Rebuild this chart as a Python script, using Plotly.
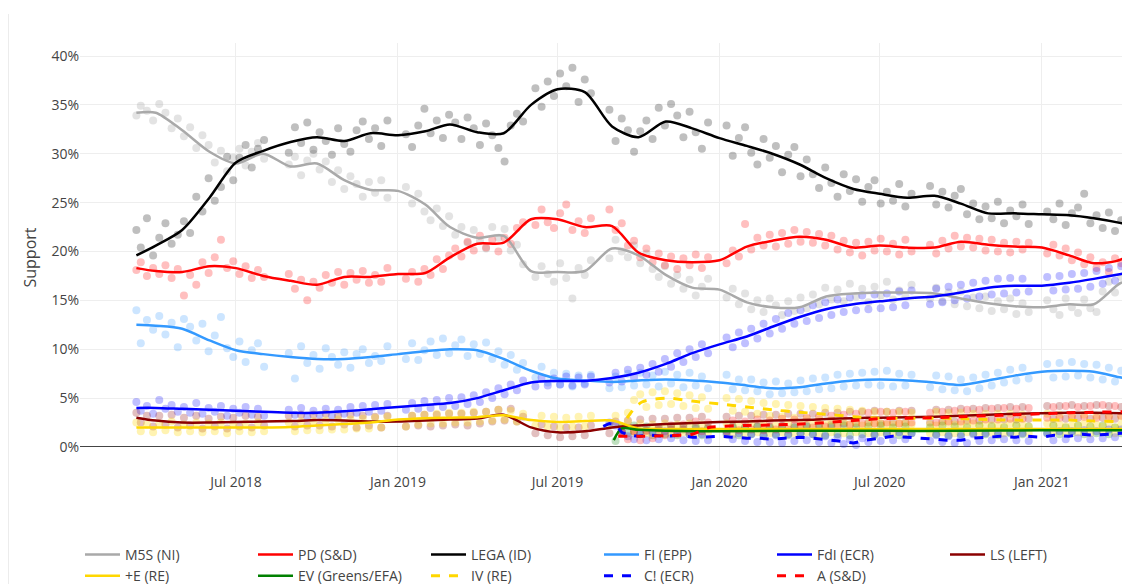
import plotly.graph_objects as go

# ---------------- poll dates (one row per poll) ----------------
poll_dates = [
    "2018-03-10", "2018-03-15", "2018-03-22", "2018-03-29", "2018-04-05", "2018-04-12", "2018-04-19", "2018-04-26",
    "2018-05-03", "2018-05-10", "2018-05-17", "2018-05-24", "2018-05-31", "2018-06-07", "2018-06-14", "2018-06-21",
    "2018-06-28", "2018-07-05", "2018-07-12", "2018-07-19", "2018-07-26", "2018-08-02", "2018-08-30", "2018-09-06",
    "2018-09-13", "2018-09-20", "2018-09-27", "2018-10-04", "2018-10-11", "2018-10-18", "2018-10-25", "2018-11-01",
    "2018-11-08", "2018-11-15", "2018-11-22", "2018-11-29", "2018-12-06", "2018-12-13", "2018-12-20",
    "2019-01-10", "2019-01-17", "2019-01-24", "2019-01-31", "2019-02-07", "2019-02-14", "2019-02-21", "2019-02-28",
    "2019-03-07", "2019-03-14", "2019-03-21", "2019-03-28", "2019-04-04", "2019-04-11", "2019-04-18", "2019-04-25",
    "2019-05-02", "2019-05-09", "2019-05-16", "2019-05-23", "2019-06-06", "2019-06-13", "2019-06-20", "2019-06-27",
    "2019-07-04", "2019-07-11", "2019-07-18", "2019-07-25", "2019-08-01", "2019-08-08", "2019-08-29", "2019-09-05",
    "2019-09-12", "2019-09-19", "2019-09-26", "2019-10-03", "2019-10-10", "2019-10-17", "2019-10-24", "2019-10-31",
    "2019-11-07", "2019-11-14", "2019-11-21", "2019-11-28", "2019-12-05", "2019-12-12", "2019-12-19",
    "2020-01-09", "2020-01-16", "2020-01-23", "2020-01-30", "2020-02-06", "2020-02-13", "2020-02-20", "2020-02-27",
    "2020-03-05", "2020-03-12", "2020-03-19", "2020-03-26", "2020-04-02", "2020-04-09", "2020-04-16", "2020-04-23",
    "2020-04-30", "2020-05-07", "2020-05-14", "2020-05-21", "2020-05-28", "2020-06-04", "2020-06-11", "2020-06-18",
    "2020-06-25", "2020-07-02", "2020-07-09", "2020-07-16", "2020-07-23", "2020-07-30", "2020-08-06", "2020-08-27",
    "2020-09-03", "2020-09-10", "2020-09-17", "2020-09-24", "2020-10-01", "2020-10-08", "2020-10-15", "2020-10-22",
    "2020-10-29", "2020-11-05", "2020-11-12", "2020-11-19", "2020-11-26", "2020-12-03", "2020-12-10", "2020-12-17",
    "2021-01-07", "2021-01-14", "2021-01-21", "2021-01-28", "2021-02-04", "2021-02-11", "2021-02-18", "2021-02-25",
    "2021-03-04", "2021-03-11", "2021-03-18", "2021-03-25", "2021-04-01", "2021-04-08",
]

m5s_polls = [
    33.9, 34.9, 34.4, 33.4, 35.1, 34.2, 32.6, 33.6, 31.8, 32.7,
    30.6, 31.9, 30.9, 29.1, 30.3, 28.2, 29.6, 30.5, 28.8, 30.2,
    31.1, 29.5, 28.9, 29.7, 27.8, 29.3, 30.0, 28.4, 29.2, 27.1,
    28.3, 26.4, 27.7, 26.9, 25.6, 27.1, 26.0, 27.3, 25.5, 26.6,
    24.9, 25.9, 24.1, 23.2, 24.4, 22.6, 23.6, 21.7, 22.5, 20.9,
    22.2, 21.1, 20.3, 22.5, 21.4, 22.3, 20.1, 20.7, 18.7, 17.4,
    18.5, 17.7, 16.9, 18.8, 17.3, 15.2, 18.3, 17.6, 19.1, 19.3,
    21.2, 20.0, 19.4, 20.6, 18.8, 19.8, 18.2, 17.4, 18.5, 16.7,
    17.6, 16.2, 17.1, 15.5, 16.4, 17.2, 15.3, 16.2, 14.6, 15.7,
    14.1, 15.0, 13.8, 15.2, 14.5, 13.5, 14.9, 13.9, 15.3, 14.2,
    15.6, 14.6, 16.3, 15.1, 16.1, 14.9, 16.7, 15.4, 16.2, 14.8,
    16.4, 15.5, 16.9, 15.1, 16.0, 15.4, 16.6, 15.2, 16.3, 14.9,
    15.8, 14.6, 15.9, 14.4, 15.3, 14.2, 15.4, 13.9, 14.9, 14.1,
    15.2, 13.6, 14.7, 13.8, 15.0, 14.1, 13.5, 15.2, 14.3, 13.7,
    15.1, 14.2, 13.8, 15.9, 16.9, 15.8, 17.4, 16.3,
]
pd_polls = [
    18.1, 18.9, 17.5, 18.3, 17.7, 18.6, 17.3, 18.2, 15.5, 17.6,
    16.6, 18.9, 17.8, 19.4, 21.2, 18.3, 19.0, 17.7, 18.5, 17.3,
    18.1, 17.4, 17.7, 16.2, 17.1, 15.0, 16.9, 16.3, 17.6, 16.8,
    17.9, 16.6, 17.8, 17.1, 18.0, 16.8, 17.6, 16.9, 18.3, 17.2,
    17.9, 16.9, 18.2, 17.6, 19.2, 18.2, 19.6, 20.3, 19.5, 21.0,
    20.1, 21.6, 20.4, 21.2, 20.0, 21.4, 20.8, 22.4, 23.0, 22.7,
    24.3, 23.0, 22.4, 23.9, 24.8, 22.2, 23.1, 21.9, 23.4, 24.3,
    22.2, 22.9, 20.6, 21.1, 19.4, 20.3, 18.9, 19.8, 18.6, 19.5,
    18.2, 19.3, 18.6, 19.7, 18.3, 19.4, 18.8, 20.1, 19.5, 22.8,
    20.2, 21.4, 20.6, 21.7, 20.5, 21.9, 20.8, 22.2, 21.0, 22.0,
    20.9, 21.8, 20.6, 21.6, 20.2, 21.1, 19.9, 20.9, 19.6, 21.0,
    20.1, 21.3, 20.0, 20.8, 19.7, 21.2, 20.0, 20.7, 19.8, 21.1,
    20.3, 21.6, 20.5, 21.4, 20.4, 21.3, 20.1, 21.2, 20.0, 20.9,
    19.9, 21.0, 20.2, 20.9, 19.8, 20.7, 19.6, 20.3, 19.1, 19.9,
    18.7, 19.4, 18.3, 18.9, 17.9, 19.3, 18.8, 20.3,
]
lega_polls = [
    22.2, 20.4, 23.4, 19.6, 21.4, 22.9, 20.8, 21.7, 23.1, 21.9,
    25.6, 24.1, 27.5, 25.2, 26.6, 29.7, 27.3, 29.6, 30.9, 28.6,
    30.5, 31.4, 30.1, 32.7, 31.1, 33.2, 30.4, 32.2, 31.3, 29.9,
    32.6, 31.0, 30.2, 32.4, 33.3, 31.5, 32.6, 30.8, 33.4, 32.0,
    30.7, 32.9, 34.6, 32.1, 33.4, 31.6, 34.0, 33.2, 31.5, 33.7,
    32.6, 30.9, 33.1, 31.9, 30.6, 29.2, 32.9, 34.1, 33.3, 36.7,
    34.8, 37.4, 35.9, 38.2, 36.9, 38.8, 35.3, 37.6, 36.2, 34.5,
    31.3, 33.6, 32.4, 30.2, 32.3, 33.4, 31.5, 34.7, 32.9, 35.1,
    33.9, 31.7, 34.3, 32.2, 30.5, 33.2, 32.9, 29.8, 31.6, 32.7,
    30.1, 28.9, 31.5, 29.6, 30.8, 28.1, 29.9, 30.7, 27.7, 29.4,
    27.9, 26.5, 28.6, 27.0, 25.6, 27.9, 26.2, 27.4, 25.1, 26.6,
    27.3, 24.9, 26.1, 25.2, 26.9, 24.6, 25.9, 26.7, 24.8, 26.1,
    24.5, 25.7, 26.4, 23.8, 24.9, 23.3, 24.6, 23.4, 25.1, 22.9,
    24.2, 23.6, 24.8, 22.8, 24.1, 23.3, 24.9, 22.7, 23.9, 24.5,
    25.9, 22.9, 23.7, 22.4, 24.0, 22.1, 23.2, 22.5,
]
fi_polls = [
    14.0, 10.6, 13.0, 12.0, 13.4, 11.5, 12.7, 10.2, 13.1, 12.3,
    10.9, 12.6, 9.8, 11.4, 13.3, 10.1, 9.2, 10.8, 8.7, 9.9,
    10.6, 8.2, 9.6, 7.0, 10.3, 8.6, 9.4, 8.0, 10.1, 9.2,
    8.4, 9.7, 8.1, 9.5, 10.0, 8.6, 9.3, 8.8, 10.3, 9.0,
    10.6, 8.9, 9.9, 10.8, 9.4, 11.1, 9.6, 10.4, 11.0, 9.3,
    10.5, 9.5, 10.7, 9.0, 9.8, 8.4, 9.4, 7.9, 8.6, 7.1,
    8.2, 6.6, 7.6, 6.4, 7.5, 6.2, 7.3, 6.5, 7.4, 6.0,
    7.2, 6.1, 7.5, 6.3, 7.6, 6.4, 7.3, 6.2, 7.7, 6.5,
    7.4, 6.1, 7.6, 6.3, 7.2, 6.0, 7.4, 5.9, 6.9, 5.8,
    6.9, 5.7, 6.6, 5.4, 6.7, 5.5, 6.5, 5.6, 6.8, 5.7,
    7.0, 5.9, 7.1, 6.0, 7.4, 6.2, 7.5, 6.3, 7.6, 6.4,
    7.7, 6.3, 7.8, 6.2, 7.5, 6.3, 7.4, 6.1, 7.3, 5.9,
    7.2, 5.8, 6.9, 5.7, 7.1, 6.0, 7.4, 6.3, 7.6, 6.6,
    7.9, 6.8, 8.1, 7.0, 8.5, 7.1, 8.6, 7.2, 8.7, 7.3,
    8.5, 7.1, 8.4, 6.9, 8.1, 6.7, 7.8, 6.5,
]
fdi_polls = [
    4.6, 3.7, 4.2, 3.4, 4.8, 3.9, 4.3, 3.6, 4.1, 3.5,
    4.5, 3.4, 4.0, 3.6, 4.2, 3.2, 3.9, 3.5, 4.1, 3.3,
    3.9, 3.2, 3.8, 3.3, 4.0, 3.1, 3.7, 3.3, 3.9, 3.2,
    3.8, 3.4, 4.1, 3.5, 4.2, 3.6, 4.3, 3.7, 4.4, 3.8,
    4.5, 3.9, 4.7, 4.0, 4.8, 4.1, 5.0, 4.2, 5.1, 4.4,
    5.3, 4.6, 5.6, 5.0, 6.0, 5.4, 6.4, 5.8, 6.8, 6.2,
    7.1, 6.3, 7.0, 6.4, 7.2, 6.3, 7.1, 6.4, 7.2, 6.6,
    7.6, 6.7, 7.9, 7.1, 8.1, 7.4, 8.5, 7.7, 9.0, 8.2,
    9.6, 8.7, 10.0, 9.2, 10.5, 9.6, 11.2, 10.2, 11.7, 10.6,
    12.1, 11.1, 12.6, 11.6, 13.1, 12.1, 13.7, 12.6, 14.0, 12.9,
    14.5, 13.2, 14.8, 13.5, 15.1, 13.8, 15.3, 14.0, 15.5, 14.1,
    15.6, 14.2, 15.7, 14.3, 15.9, 14.5, 16.0, 14.6, 16.2, 14.8,
    16.4, 15.0, 16.6, 15.2, 16.8, 15.4, 17.0, 15.6, 17.2, 15.7,
    17.3, 15.8, 17.2, 15.9, 17.4, 16.0, 17.5, 16.1, 17.7, 16.2,
    17.8, 16.4, 18.0, 16.7, 18.3, 17.0, 18.5, 17.2,
]
ls_polls = [
    3.5, 2.5, 3.2, 2.1, 3.2, 2.3, 3.3, 2.0, 3.0, 2.2,
    3.2, 1.9, 2.9, 2.1, 3.1, 1.9, 3.0, 2.1, 3.2, 2.0,
    3.1, 2.2, 3.2, 2.1, 3.3, 2.2, 3.3, 2.2, 3.4, 2.1,
    3.2, 2.3, 3.3, 2.0, 3.2, 2.2, 3.1, 2.0, 3.2, 2.1,
    3.2, 2.2, 3.3, 2.1, 3.3, 2.2, 3.4, 2.3, 3.4, 2.2,
    3.5, 2.4, 3.6, 2.6, 3.8, 2.7, 3.9, 2.6, 3.1, 1.4,
    2.3, 1.2, 2.1, 1.0, 2.0, 1.1, 2.0, 1.2, 2.2, 1.4,
    2.6, 1.5, 2.7, 1.6, 2.8, 1.7, 2.9, 1.7, 2.9, 1.8,
    3.0, 1.8, 3.0, 1.9, 3.1, 1.9, 3.1, 2.0, 3.2, 2.0,
    3.2, 2.1, 3.3, 2.1, 3.3, 2.2, 3.4, 2.2, 3.4, 2.2,
    3.4, 2.3, 3.5, 2.3, 3.5, 2.4, 3.6, 2.4, 3.6, 2.5,
    3.7, 2.4, 3.6, 2.5, 3.7, 2.5, 3.7, 2.5, 3.8, 2.6,
    3.8, 2.6, 3.9, 2.7, 3.9, 2.7, 4.0, 2.8, 4.0, 2.8,
    4.1, 2.8, 4.1, 2.9, 4.2, 2.9, 4.2, 2.9, 4.3, 3.0,
    4.2, 2.9, 4.3, 3.0, 4.2, 2.9, 4.1, 2.8,
]
pe_polls = [
    2.5, 1.6, 2.3, 1.5, 2.4, 1.7, 2.6, 1.5, 2.3, 1.6,
    2.5, 1.5, 2.4, 1.6, 2.5, 1.4, 2.3, 1.6, 2.4, 1.5,
    2.5, 1.6, 2.5, 1.6, 2.6, 1.7, 2.6, 1.7, 2.7, 1.8,
    2.8, 1.8, 2.8, 1.9, 2.9, 1.9, 3.0, 2.0, 3.1, 2.1,
    3.2, 2.3, 3.3, 2.4, 3.4, 2.4, 3.5, 2.5, 3.5, 2.5,
    3.6, 2.6, 3.6, 2.7, 3.8, 2.8, 3.7, 2.6, 3.4, 2.2,
    3.2, 2.1, 3.1, 2.0, 3.0, 2.1, 3.1, 2.1, 3.2, 2.2,
    3.2, 2.1, 2.6, 1.4, 2.4, 1.4, 2.3, 1.4, 2.4, 1.3,
    2.3, 1.5, 2.4, 1.4, 2.3, 1.5, 2.4, 1.3, 2.3, 1.4,
    2.4, 1.5, 2.3, 1.4, 2.2, 1.5, 2.4, 1.4, 2.3, 1.5,
    2.4, 1.3, 2.3, 1.5, 2.4, 1.4, 2.3, 1.5, 2.2, 1.4,
    2.4, 1.5, 2.3, 1.4, 2.4, 1.5, 2.3, 1.4, 2.2, 1.5,
    2.4, 1.4, 2.3, 1.5, 2.4, 1.4, 2.3, 1.5, 2.2, 1.4,
    2.4, 1.5, 2.3, 1.4, 2.4, 1.5, 2.3, 1.4, 2.2, 1.5,
    2.4, 1.4, 2.3, 1.5, 2.4, 1.4, 2.3, 1.5,
]
# parties founded in 2019 (polled from their first appearance)
c_polls = [
    2.5, 2.2, 1.6, 1.1, 0.8, 1.4, 0.7, 1.5, 0.8, 1.6, 0.9,
    1.5, 0.7, 1.3, 0.6, 1.3, 0.7, 1.5, 0.8, 1.4, 0.6,
    1.3, 0.5, 1.2, 0.5, 1.2, 0.4, 1.3, 0.6, 1.4, 0.7,
    1.3, 0.5, 1.1, 0.4, 1.0, 0.3, 0.8, 0.2, 0.9, 0.5,
    1.3, 0.6, 1.4, 0.7, 1.5, 0.8, 1.4, 0.6, 1.2, 0.5,
    1.1, 0.4, 1.1, 0.4, 1.3, 0.6, 1.4, 0.7, 1.5, 0.8,
    1.5, 0.7, 1.4, 0.6, 1.4, 0.7, 1.6, 0.8, 1.6, 0.9,
    1.7, 0.8, 1.6, 0.9, 1.8, 1.0, 1.8, 1.1,
]
ev_polls = [
    0.6, 2.1, 1.4, 2.2, 1.3, 2.1, 1.2, 2.0, 1.3, 2.1,
    1.2, 2.0, 1.3, 2.1, 1.2, 2.0, 1.3, 2.1, 1.2, 2.0,
    1.3, 2.1, 1.2, 2.0, 1.3, 2.1, 1.2, 2.0, 1.4, 2.1,
    1.3, 2.0, 1.2, 2.1, 1.3, 2.2, 1.2, 2.0, 1.3, 2.1,
    1.2, 2.2, 1.3, 2.0, 1.2, 2.1, 1.4, 2.0, 1.3, 2.2,
    1.2, 2.1, 1.3, 2.0, 1.4, 2.2, 1.3, 2.1, 1.2, 2.0,
    1.4, 2.2, 1.3, 2.1, 1.4, 2.2, 1.3, 2.0, 1.4, 2.2,
    1.3, 2.1, 1.4, 2.2, 1.3, 2.0, 1.4, 2.1,
]
a_polls = [
    1.5, 0.8, 1.6, 0.7, 1.6, 0.9, 1.9, 1.2, 2.2,
    1.3, 2.3, 1.5, 2.6, 1.6, 2.5, 1.6, 2.7, 1.7, 2.6,
    1.8, 2.8, 1.7, 2.7, 1.8, 2.9, 1.8, 2.8, 1.9, 3.0,
    2.0, 3.1, 2.1, 3.2, 2.2, 3.3, 2.3, 3.4, 2.4, 3.5,
    2.4, 3.6, 2.5, 3.5, 2.4, 3.6, 2.5, 3.5, 2.5, 3.6,
    2.6, 3.7, 2.6, 3.8, 2.7, 3.8, 2.8, 3.9, 2.8, 4.0,
    2.9, 3.9, 2.9, 4.0, 3.0, 4.1, 3.0, 4.2, 3.1, 4.1,
    3.1, 4.2, 3.0, 4.3, 3.1, 4.2, 3.2, 4.1,
]
iv_polls = [
    3.5, 4.8, 5.4, 4.1, 5.6, 4.3, 5.7, 4.4,
    5.5, 4.2, 5.3, 4.0, 5.1, 3.9, 5.0, 3.7, 4.9, 3.6,
    4.7, 3.4, 4.5, 3.2, 4.4, 3.1, 4.3, 3.0, 4.2, 2.9,
    4.1, 2.8, 4.0, 2.7, 3.9, 2.6, 3.8, 2.5, 3.7, 2.4,
    3.6, 2.4, 3.6, 2.3, 3.6, 2.4, 3.5, 2.3, 3.6, 2.4,
    3.5, 2.3, 3.5, 2.3, 3.4, 2.2, 3.4, 2.2, 3.4, 2.1,
    3.4, 2.2, 3.3, 2.1, 3.4, 2.2, 3.3, 2.1, 3.3, 2.2,
    3.3, 2.1, 3.2, 2.1, 3.2, 2.0, 3.1, 2.0,
]
c_dates = poll_dates[69:]
ev_dates = poll_dates[70:]
a_dates = poll_dates[71:]
iv_dates = poll_dates[72:]

# ---------------- smoothed trend lines ----------------
trend_dates = [
    "2018-03-10", "2018-04-01", "2018-05-01", "2018-06-01", "2018-07-01", "2018-08-01", "2018-09-01", "2018-10-01",
    "2018-11-01", "2018-12-01", "2019-01-01", "2019-02-01", "2019-03-01", "2019-04-01", "2019-05-01", "2019-06-01",
    "2019-07-01", "2019-08-01", "2019-09-01", "2019-10-01", "2019-11-01", "2019-12-01", "2020-01-01", "2020-02-01",
    "2020-03-01", "2020-04-01", "2020-05-01", "2020-06-01", "2020-07-01", "2020-08-01", "2020-09-01", "2020-10-01",
    "2020-11-01", "2020-12-01", "2021-01-01", "2021-02-01", "2021-03-01", "2021-04-01", "2021-04-15",
]
m5s_trend = [34.2, 34.2, 32.4, 30.2, 29.0, 30.0, 28.7, 29.0, 27.3, 26.3, 26.2, 24.8, 22.5, 21.4, 21.6, 18.0, 17.9, 18.0,
             20.3, 19.6, 17.6, 16.3, 16.1, 14.8, 14.3, 14.3, 15.4, 15.7, 15.8, 15.8, 15.7, 15.2, 14.7, 14.4, 14.3,
             14.6, 14.6, 16.8, 16.8]
pd_trend = [18.3, 18.0, 17.9, 18.5, 18.3, 17.5, 17.0, 16.6, 17.4, 17.4, 17.7, 17.8, 19.4, 20.8, 20.9, 23.3, 23.3, 22.5,
            22.6, 19.9, 19.1, 18.9, 19.1, 20.5, 21.1, 21.5, 21.2, 20.4, 20.6, 20.4, 20.4, 21.0, 20.7, 20.5, 20.4,
            19.6, 18.8, 19.2, 20.3]
lega_trend = [19.6, 20.6, 22.2, 25.5, 29.1, 30.3, 31.2, 31.7, 31.3, 32.1, 31.9, 32.3, 33.0, 32.2, 32.1, 35.0, 36.6,
              36.3, 32.8, 31.7, 33.3, 32.6, 31.6, 30.8, 30.0, 28.9, 27.5, 26.4, 25.9, 25.5, 25.7, 24.9, 23.9, 23.9,
              23.8, 23.7, 23.4, 22.9, 22.6]
fi_trend = [12.5, 12.4, 12.1, 10.9, 9.9, 9.5, 9.2, 9.0, 9.0, 9.2, 9.5, 9.8, 10.0, 9.9, 9.0, 7.8, 7.0, 6.8, 6.65, 6.8,
            6.9, 6.8, 6.6, 6.3, 6.0, 6.1, 6.5, 6.8, 6.9, 6.8, 6.6, 6.35, 6.8, 7.3, 7.7, 7.8, 7.7, 7.1, 6.9]
fdi_trend = [4.0, 4.0, 3.9, 3.8, 3.7, 3.6, 3.5, 3.5, 3.65, 3.85, 4.1, 4.3, 4.5, 5.0, 5.8, 6.6, 6.75, 6.75, 7.05, 7.6,
             8.5, 9.6, 10.5, 11.3, 12.3, 13.3, 14.1, 14.6, 14.9, 15.2, 15.4, 15.8, 16.3, 16.5, 16.5, 16.8, 17.2,
             17.7, 17.9]
ls_trend = [3.0, 2.7, 2.5, 2.5, 2.55, 2.6, 2.65, 2.75, 2.7, 2.6, 2.6, 2.7, 2.8, 2.9, 3.3, 2.0, 1.5, 1.6, 2.0, 2.2,
            2.35, 2.45, 2.55, 2.6, 2.7, 2.75, 2.85, 2.95, 3.0, 3.05, 3.1, 3.2, 3.3, 3.4, 3.45, 3.5, 3.5, 3.45, 3.4]
pe_trend = [2.0, 2.0, 2.0, 2.0, 2.0, 2.0, 2.05, 2.2, 2.35, 2.5, 2.8, 2.95, 3.0, 3.05, 3.25, 2.75, 2.55, 2.65, 2.7,
            1.9, 1.85, 1.85, 1.85, 1.85, 1.85, 1.85, 1.85, 1.85, 1.85, 1.85, 1.85, 1.85, 1.85, 1.85, 1.85, 1.85,
            1.85, 1.85, 1.85]

ev_trend_dates = ["2019-09-03", "2019-09-12", "2019-10-01", "2019-11-01", "2020-01-01", "2020-04-01", "2020-07-01",
                  "2020-10-01", "2021-01-01", "2021-04-15"]
ev_trend = [0.7, 1.9, 1.75, 1.65, 1.6, 1.65, 1.65, 1.65, 1.7, 1.7]

iv_trend_dates = ["2019-09-18", "2019-09-25", "2019-10-05", "2019-11-01", "2019-12-01", "2020-01-01", "2020-02-01",
                  "2020-03-01", "2020-04-01", "2020-05-01", "2020-06-01", "2020-07-01", "2020-08-01", "2020-09-01",
                  "2020-10-01", "2020-11-01", "2020-12-01", "2021-01-01", "2021-02-01", "2021-03-01", "2021-04-01",
                  "2021-04-15"]
iv_trend = [2.95, 3.8, 4.6, 5.0, 4.7, 4.4, 4.1, 3.8, 3.55, 3.35, 3.1, 2.95, 2.95, 2.95, 2.9, 2.8, 2.75, 2.75, 2.75,
            2.65, 2.6, 2.6]

c_trend_dates = ["2019-08-22", "2019-08-29", "2019-09-05", "2019-09-12", "2019-09-20", "2019-10-01", "2019-10-15",
                 "2019-11-01", "2019-11-15", "2019-12-01", "2019-12-15", "2020-01-01", "2020-01-15", "2020-02-01",
                 "2020-02-15", "2020-03-01", "2020-03-15", "2020-04-01", "2020-04-15", "2020-05-01", "2020-05-15",
                 "2020-06-01", "2020-06-15", "2020-07-01", "2020-07-15", "2020-08-01", "2020-09-01", "2020-09-15",
                 "2020-10-01", "2020-10-15", "2020-11-01", "2020-11-15", "2020-12-01", "2020-12-15", "2021-01-01",
                 "2021-01-15", "2021-02-01", "2021-02-15", "2021-03-01", "2021-03-15", "2021-04-01", "2021-04-15"]
c_trend = [2.1, 2.4, 2.3, 1.5, 1.2, 1.1, 1.2, 1.1, 1.2, 1.0, 1.0, 1.1, 1.0, 0.9, 0.9, 0.8, 0.9, 1.0, 0.9, 0.7, 0.6,
           0.4, 0.7, 0.9, 1.1, 1.0, 0.8, 0.7, 0.7, 0.9, 1.0, 1.1, 1.0, 1.1, 1.0, 1.2, 1.1, 1.3, 1.2, 1.3, 1.4, 1.4]

a_trend_dates = ["2019-09-08", "2019-10-01", "2019-11-01", "2019-12-01", "2019-12-20", "2020-01-01", "2020-02-01",
                 "2020-03-01", "2020-04-01", "2020-05-01", "2020-06-01", "2020-07-01", "2020-08-01", "2020-09-01",
                 "2020-10-01", "2020-11-01", "2020-12-01", "2021-01-01", "2021-02-01", "2021-03-01", "2021-04-01",
                 "2021-04-15"]
a_trend = [1.1, 1.1, 1.15, 1.3, 2.0, 2.1, 2.2, 2.25, 2.35, 2.5, 2.7, 2.9, 2.95, 3.0, 3.1, 3.2, 3.3, 3.4, 3.5, 3.55,
           3.6, 3.6]

y_ticks = [0, 5, 10, 15, 20, 25, 30, 35, 40]

# ---------------- figure ----------------
series = [
    # name, poll dates, poll values, trend dates, trend values, colour, dash, point opacity, spline
    ("M5S (NI)", poll_dates, m5s_polls, trend_dates, m5s_trend, "#a9a9a9", "solid", 0.32, True),
    ("PD (S&D)", poll_dates, pd_polls, trend_dates, pd_trend, "#ff0000", "solid", 0.25, True),
    ("LEGA (ID)", poll_dates, lega_polls, trend_dates, lega_trend, "#000000", "solid", 0.25, True),
    ("FI (EPP)", poll_dates, fi_polls, trend_dates, fi_trend, "#3399ff", "solid", 0.25, True),
    ("FdI (ECR)", poll_dates, fdi_polls, trend_dates, fdi_trend, "#0000ff", "solid", 0.25, True),
    ("LS (LEFT)", poll_dates, ls_polls, trend_dates, ls_trend, "#8b0000", "solid", 0.25, True),
    ("+E (RE)", poll_dates, pe_polls, trend_dates, pe_trend, "#ffd700", "solid", 0.3, True),
    ("EV (Greens/EFA)", ev_dates, ev_polls, ev_trend_dates, ev_trend, "#008000", "solid", 0.25, True),
    ("IV (RE)", iv_dates, iv_polls, iv_trend_dates, iv_trend, "#ffd700", "dash", 0.3, True),
    ("C! (ECR)", c_dates, c_polls, c_trend_dates, c_trend, "#0000ff", "dash", 0.25, False),
    ("A (S&D)", a_dates, a_polls, a_trend_dates, a_trend, "#ff0000", "dash", 0.25, True),
]

fig = go.Figure()
for name, pdates, pvals, tdates, tvals, col, dash, op, spl in series:
    fig.add_trace(go.Scatter(
        x=pdates, y=pvals, mode="markers", showlegend=False, hoverinfo="skip",
        marker=dict(color=col, size=8, opacity=op, line=dict(width=0)),
    ))
for name, pdates, pvals, tdates, tvals, col, dash, op, spl in series:
    fig.add_trace(go.Scatter(
        x=tdates, y=tvals, mode="lines", name=name,
        line=dict(color=col, width=2.5 if dash == "solid" else 3, dash=dash,
                  shape="spline" if spl else "linear", smoothing=0.8),
    ))

# faint frame line at the left edge of the chart
fig.add_shape(type="line", xref="paper", yref="paper", x0=-0.0681, x1=-0.0681, y0=1.0676, y1=-0.27,
              line=dict(color="#ececec", width=1))

fig.update_layout(
    width=1122, height=576, autosize=False,
    margin=dict(l=72, r=0, t=35, b=112, autoexpand=False),
    paper_bgcolor="white", plot_bgcolor="white",
    font=dict(family="Open Sans, verdana, arial, sans-serif", color="#444", size=14),
    showlegend=True,
    legend=dict(orientation="h", x=0, xanchor="left", y=-0.156, yanchor="top",
                entrywidth=123, entrywidthmode="pixels", itemwidth=35,
                font=dict(size=14, color="#444"), bgcolor="rgba(0,0,0,0)"),
    xaxis=dict(type="date", range=["2018-01-05", "2021-04-11"], dtick="M6", tick0="2018-01-01",
               tickformat="%b %Y", showgrid=True, gridcolor="#eeeeee", zeroline=False, showline=False,
               ticks="", tickfont=dict(size=14)),
    yaxis=dict(range=[-2.56, 41.33], tickvals=y_ticks, ticktext=[f"{v}%" for v in y_ticks],
               showgrid=True, gridcolor="#eeeeee", zeroline=True, zerolinecolor="#444", zerolinewidth=1,
               showline=False, ticks="", tickfont=dict(size=14),
               title=dict(text="Support", font=dict(size=16, color="#444"), standoff=10)),
)

fig.write_html("out.html", config={"displayModeBar": False})
